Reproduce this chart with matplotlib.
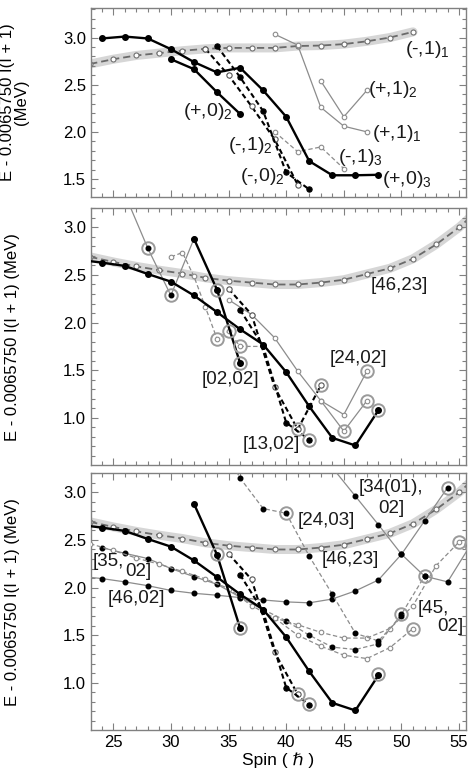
import numpy as np
import matplotlib
matplotlib.use("Agg")
from matplotlib import pyplot as plt
from matplotlib.ticker import MultipleLocator, FormatStrFormatter

plt.rcParams['font.family'] = ['Liberation Sans', 'DejaVu Sans']
plt.rcParams['mathtext.fontset'] = 'custom'
plt.rcParams['mathtext.rm'] = 'Liberation Sans'
plt.rcParams['mathtext.default'] = 'regular'

# ---------------- top panel data ----------------
top_band_I = [23, 25, 27, 29, 31, 33, 35, 37, 39, 41, 43, 45, 47, 49, 51]
top_band_E = [2.72, 2.77, 2.81, 2.835, 2.86, 2.88, 2.89, 2.89, 2.89, 2.91, 2.915, 2.93, 2.96, 3.00, 3.06]
p0_1_I = [24, 26, 28, 30, 32, 34, 36, 38, 40, 42, 44, 46, 48]
p0_1_E = [2.99, 3.01, 2.99, 2.877, 2.74, 2.63, 2.68, 2.44, 2.16, 1.69, 1.54, 1.54, 1.545]
p0_2_I = [30, 32, 34, 36]
p0_2_E = [2.77, 2.665, 2.42, 2.19]
m1_2_I = [33, 35, 37, 39, 41]
m1_2_E = [2.88, 2.60, 2.27, 1.92, 1.44]
m0_2_I = [34, 36, 38, 40, 42]
m0_2_E = [2.91, 2.58, 2.22, 1.57, 1.39]
m1_3_I = [39, 41, 43, 45]
m1_3_E = [2.00, 1.79, 1.84, 1.61]
p1_1_I = [39, 41, 43, 45, 47]
p1_1_E = [3.035, 2.92, 2.26, 2.06, 2.00]
p1_2_I = [43, 45, 47]
p1_2_E = [2.54, 2.16, 2.44]

# ---------------- middle / bottom panel data ----------------
b46_23_I = [23, 25, 27, 29, 31, 33, 35, 37, 39, 41, 43, 45, 47, 49, 51, 53, 55, 57]
b46_23_E = [2.69, 2.637, 2.59, 2.55, 2.515, 2.47, 2.44, 2.42, 2.40, 2.40, 2.42, 2.45,
            2.51, 2.57, 2.67, 2.82, 3.00, 3.22]
yrast_I = [22, 24, 26, 28, 30, 32, 34, 36, 38, 40, 42, 44, 46, 48]
yrast_E = [2.66, 2.63, 2.595, 2.51, 2.43, 2.285, 2.11, 1.93, 1.77, 1.48, 1.12, 0.79, 0.71, 1.08]
b02_thin_I = [26, 28, 30, 32]
b02_thin_E = [3.35, 2.78, 2.285, 2.88]
b02_I = [32, 34, 36]
b02_E = [2.88, 2.345, 1.575]
zig_I = [30, 31, 32, 33, 34, 35, 36, 38]
zig_E = [2.69, 2.735, 2.485, 2.16, 1.83, 1.91, 1.75, 1.75]
b13_odd_I = [35, 37, 39, 41, 43]
b13_odd_E = [2.355, 2.085, 1.32, 0.88, 1.34]
b13_even_I = [36, 38, 40, 42]
b13_even_E = [2.135, 1.75, 0.95, 0.77]
b24_02a_I = [35, 37, 39, 41, 43, 45, 47]
b24_02a_E = [2.24, 2.085, 1.84, 1.49, 1.18, 1.035, 1.49]
b24_02b_I = [43, 45, 47]
b24_02b_E = [1.18, 0.86, 1.18]
mid_ring_I = [28, 30, 34, 36, 34, 35, 36, 41, 42, 43, 45, 47, 47, 48]
mid_ring_E = [2.78, 2.285, 2.345, 1.575, 1.83, 1.91, 1.75, 0.88, 0.77, 1.34, 0.86, 1.18, 1.49, 1.08]

b46_02_I = [22, 24, 26, 28, 30, 32, 34, 36, 38, 40, 42, 44, 46, 48, 50, 52, 54]
b46_02_E = [2.12, 2.095, 2.06, 2.02, 1.97, 1.94, 1.92, 1.895, 1.87, 1.85, 1.84, 1.88, 1.965,
            2.08, 2.35, 2.70, 3.05]
b35_even_I = [24, 26, 28, 30, 32, 34, 36, 38]
b35_even_E = [2.42, 2.36, 2.305, 2.20, 2.115, 2.035, 1.90, 1.77]
b45_even_I = [38, 40, 42, 44, 46, 48, 50, 52]
b45_even_E = [1.77, 1.65, 1.50, 1.375, 1.35, 1.41, 1.72, 2.12]
b35_odd_I = [23, 25, 27, 29, 31, 33, 35, 37, 39, 41, 43, 45, 47, 49, 51, 53, 55]
b35_odd_E = [2.46, 2.39, 2.31, 2.245, 2.17, 2.09, 1.99, 1.81, 1.68, 1.61, 1.53, 1.47, 1.47,
             1.57, 1.81, 2.23, 2.48]
b45_odd_I = [39, 41, 43, 45, 47, 49, 51]
b45_odd_E = [1.68, 1.50, 1.385, 1.29, 1.255, 1.37, 1.57]
b24_03_I = [34, 36, 38, 40, 42, 44, 46, 48, 50]
b24_03_E = [3.6, 3.15, 2.83, 2.78, 2.33, 1.93, 1.52, 1.44, 1.70]
b34_I = [44, 46, 48, 50, 52, 54, 56]
b34_E = [3.26, 2.96, 2.66, 2.35, 2.12, 2.06, 2.45]
bot_ring_I = [34, 36, 40, 41, 42, 48, 50, 51, 52, 54, 55, 56]
bot_ring_E = [2.35, 1.58, 2.78, 0.88, 0.78, 1.095, 1.72, 1.57, 2.12, 3.05, 2.48, 2.45]

GRAY = '#8c8c8c'
DARK = '#1a1a1a'


def band(ax, I, E):
    ax.plot(I, E, color='#d2d2d2', lw=6.5, solid_capstyle='round', zorder=1, alpha=0.9)
    ax.plot(I, E, color='#6a6a6a', lw=1.3, dashes=(4, 2.2), marker='o', ms=3.6,
            mfc='white', mec='#707070', mew=0.8, zorder=2)


def thick(ax, I, E):
    ax.plot(I, E, color='black', lw=1.7, marker='o', ms=4, mfc='black', mec='black', zorder=5)


def thin(ax, I, E, filled=True, dashed=False):
    kw = dict(color=GRAY, lw=0.9, marker='o', ms=3.3, zorder=3)
    if filled:
        kw.update(mfc='black', mec='black')
    else:
        kw.update(mfc='white', mec=GRAY, mew=0.8)
    if dashed:
        kw['dashes'] = (3.5, 2)
    ax.plot(I, E, **kw)


def bdash(ax, I, E, filled=True):
    ax.plot(I, E, color='black', lw=1.5, dashes=(2.5, 1.5), marker='o', ms=3.8,
            mfc='black' if filled else 'white', mec='black' if filled else '#555555',
            mew=0.8, zorder=4)


def rings(ax, I, E):
    ax.plot(I, E, ls='none', marker='o', ms=9, mfc='none', mec='#9a9a9a', mew=1.4, zorder=6)


def style(ax, ylo, yhi, show_x=False):
    ax.set_xlim(23.07, 55.6)
    ax.set_ylim(ylo, yhi)
    ax.xaxis.set_major_locator(MultipleLocator(5))
    ax.xaxis.set_minor_locator(MultipleLocator(1))
    ax.yaxis.set_major_locator(MultipleLocator(0.5))
    ax.yaxis.set_minor_locator(MultipleLocator(0.1))
    ax.tick_params(which='both', direction='in', top=True, right=True, color='#808080',
                   labelsize=12, width=0.8)
    ax.tick_params(which='major', length=5)
    ax.tick_params(which='minor', length=3)
    ax.yaxis.set_major_formatter(FormatStrFormatter('%.1f'))
    if not show_x:
        ax.tick_params(labelbottom=False)
    for s in ax.spines.values():
        s.set_color('#808080')
        s.set_linewidth(1.0)


fig = plt.figure(figsize=(4.7, 7.81), dpi=100)
ax1 = fig.add_axes([0.1936, 0.7478, 0.798, 0.2416])
ax2 = fig.add_axes([0.1936, 0.4046, 0.798, 0.3287])
ax3 = fig.add_axes([0.1936, 0.0653, 0.798, 0.3287])

# ---- top ----
band(ax1, top_band_I, top_band_E)
thick(ax1, p0_1_I, p0_1_E)
thick(ax1, p0_2_I, p0_2_E)
bdash(ax1, m1_2_I, m1_2_E, filled=False)
bdash(ax1, m0_2_I, m0_2_E)
thin(ax1, m1_3_I, m1_3_E, filled=False, dashed=True)
thin(ax1, p1_1_I, p1_1_E, filled=False)
thin(ax1, p1_2_I, p1_2_E, filled=False)
style(ax1, 1.31, 3.31)
ax1.set_ylabel('E - 0.0065750 I(I + 1)\n(MeV)', fontsize=12, linespacing=0.95)
ax1.yaxis.set_label_coords(-0.165, 0.5)

tfs = 14
for txt, x, y in [('(-,1)$_1$', 50.3, 2.824), ('(+,1)$_2$', 47.1, 2.40),
                  ('(+,1)$_1$', 47.4, 1.934), ('(-,1)$_3$', 44.5, 1.676),
                  ('(+,0)$_3$', 48.28, 1.45), ('(+,0)$_2$', 31.07, 2.163),
                  ('(-,1)$_2$', 34.97, 1.81), ('(-,0)$_2$', 35.99, 1.48)]:
    ax1.text(x, y, txt, fontsize=tfs, ha='left', va='baseline', color=DARK, zorder=8)

# ---- middle ----
band(ax2, b46_23_I, b46_23_E)
thin(ax2, b02_thin_I, b02_thin_E)
thin(ax2, zig_I, zig_E, filled=False, dashed=True)
thin(ax2, b24_02a_I, b24_02a_E, filled=False)
thin(ax2, b24_02b_I, b24_02b_E, filled=False)
thick(ax2, yrast_I, yrast_E)
thick(ax2, b02_I, b02_E)
bdash(ax2, b13_odd_I, b13_odd_E, filled=False)
bdash(ax2, b13_even_I, b13_even_E)
rings(ax2, mid_ring_I, mid_ring_E)
style(ax2, 0.505, 3.2)
ax2.set_ylabel('E - 0.0065750 I(I + 1) (MeV)', fontsize=12)
ax2.yaxis.set_label_coords(-0.19, 0.5)

bfs = 13.5
for txt, x, y in [('[46,23]', 47.3, 2.39), ('[24,02]', 43.8, 1.625),
                  ('[02,02]', 32.7, 1.40), ('[13,02]', 36.2, 0.72)]:
    ax2.text(x, y, txt, fontsize=bfs, ha='left', va='center', color=DARK, zorder=8)

# ---- bottom ----
band(ax3, b46_23_I, b46_23_E)
thin(ax3, b46_02_I, b46_02_E)
thin(ax3, b35_even_I, b35_even_E)
thin(ax3, b45_even_I, b45_even_E, dashed=True)
thin(ax3, b35_odd_I, b35_odd_E, filled=False, dashed=True)
thin(ax3, b45_odd_I, b45_odd_E, filled=False, dashed=True)
thin(ax3, b24_03_I, b24_03_E, dashed=True)
thin(ax3, b34_I, b34_E)
thick(ax3, yrast_I, yrast_E)
thick(ax3, b02_I, b02_E)
bdash(ax3, b13_odd_I[:-1], b13_odd_E[:-1], filled=False)
bdash(ax3, b13_even_I, b13_even_E)
rings(ax3, bot_ring_I, bot_ring_E)
style(ax3, 0.505, 3.2, show_x=True)
ax3.set_ylabel('E - 0.0065750 I(I + 1) (MeV)', fontsize=12)
ax3.yaxis.set_label_coords(-0.19, 0.5)
ax3.set_xlabel('Spin ( \u210f )', fontsize=12.5, labelpad=2)

for txt, x, y in [('[34(01),', 46.3, 3.05), ('02]', 48.0, 2.83), ('[24,03]', 41.0, 2.70),
                  ('[46,23]', 43.1, 2.29), ('[35,', 23.2, 2.27), ('02]', 26.0, 2.17),
                  ('[46,02]', 24.5, 1.89), ('[45,', 51.4, 1.78), ('02]', 53.1, 1.59)]:
    ax3.text(x, y, txt, fontsize=bfs, ha='left', va='center', color=DARK, zorder=8)

fig.savefig('out.png', dpi=100)
